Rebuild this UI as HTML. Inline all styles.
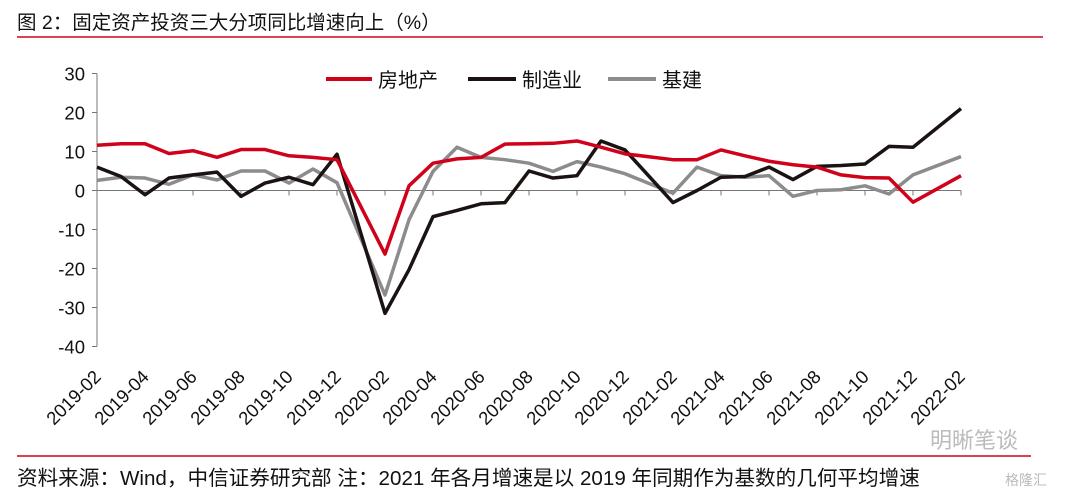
<!DOCTYPE html>
<html><head><meta charset="utf-8"><style>
body{margin:0;width:1080px;height:493px;background:#fff;overflow:hidden;font-family:"Liberation Sans","Noto Sans CJK SC",sans-serif;}
svg text{font-family:"Liberation Sans","Noto Sans CJK SC",sans-serif;}
</style></head><body>
<svg id="c" width="1080" height="493">
<text x="17" y="29" font-size="19.5" fill="#111">图 2：固定资产投资三大分项同比增速向上（%）</text>
<line x1="17" y1="37" x2="1043" y2="37" stroke="#d0021b" stroke-width="1.5"/>
<line x1="17" y1="456" x2="1031" y2="456" stroke="#d0021b" stroke-width="1.5"/>
<text x="17" y="485" font-size="20.6" fill="#111">资料来源：Wind，中信证券研究部  注：2021 年各月增速是以 2019 年同期作为基数的几何平均增速</text>
<text x="930" y="448" font-size="22" fill="#bbb">明晰笔谈</text>
<text x="1005" y="485" font-size="14" fill="#bbb">格隆汇</text>
<g id="legend">
<line x1="326" y1="79" x2="372" y2="79" stroke="#d0021b" stroke-width="4"/>
<text x="378" y="87" font-size="20" fill="#111">房地产</text>
<line x1="468" y1="79" x2="516" y2="79" stroke="#1a1311" stroke-width="4"/>
<text x="522" y="87" font-size="20" fill="#111">制造业</text>
<line x1="608" y1="79" x2="656" y2="79" stroke="#8c8c8c" stroke-width="4"/>
<text x="662" y="87" font-size="20" fill="#111">基建</text>
</g>
</svg>
<script>
const yTicks=[30,20,10,0,-10,-20,-30,-40];
const xLabels=["2019-02","2019-04","2019-06","2019-08","2019-10","2019-12","2020-02","2020-04","2020-06","2020-08","2020-10","2020-12","2021-02","2021-04","2021-06","2021-08","2021-10","2021-12","2022-02"];
const realEstate=[11.6,12,12,9.5,10.2,8.5,10.5,10.5,8.9,8.5,7.9,null,-16.3,1.2,7,8.1,8.5,11.9,12,12.1,12.7,11.1,9.4,null,7.9,7.9,10.4,8.9,7.5,6.6,6,4,3.3,3.2,-3,null,3.8];
const manufacturing=[6,3.6,-1.1,3.2,4,4.7,-1.5,1.9,3.4,1.5,9.3,null,-31.5,-20.3,-6.7,-5.1,-3.4,-3.1,5,3.2,3.8,12.7,10.4,null,-3.1,0,3.4,3.6,6,2.8,6.2,6.4,6.8,11.3,11.1,null,21];
const infrastructure=[2.6,3.4,3.2,1.6,4,2.7,5,5,1.9,5.5,2,null,-26.8,-7.5,4.9,11.1,8.5,7.9,7,4.9,7.4,6,4.3,null,-0.7,6,3.8,3.4,3.8,-1.5,0,0.2,1.2,-0.9,4,null,8.7];
const svg=document.getElementById('c');const NS='http://www.w3.org/2000/svg';
const X0=97,DX=24,Y0=190.5,YS=3.9;
const xs=i=>X0+i*DX, ys=v=>Y0-v*YS;
function mk(t,a){const e=document.createElementNS(NS,t);for(const k in a)e.setAttribute(k,a[k]);svg.appendChild(e);return e;}
const ax=mk('line',{x1:X0,y1:ys(30),x2:X0,y2:ys(-40),stroke:'#777','stroke-width':1});


yTicks.forEach(v=>{
 const t=mk('line',{x1:X0-5,y1:ys(v),x2:X0,y2:ys(v),stroke:'#777'});
 
 
 const l=mk('text',{x:X0-12,y:ys(v)+7,'font-size':18.5,'text-anchor':'end',fill:'#111'});l.textContent=v;
 
 
});
const xa=mk('line',{x1:X0,y1:Y0,x2:xs(36),y2:Y0,stroke:'#777','stroke-width':1});


xLabels.forEach((s,k)=>{
 const x=xs(k*2);
 const t=mk('line',{x1:x,y1:Y0,x2:x,y2:Y0+5,stroke:'#777'});
 
 
 const l=mk('text',{x:0,y:0,'font-size':18.5,'text-anchor':'end',fill:'#111',transform:`translate(${x+5},${378}) rotate(-45)`});l.textContent=s;
 
 
});
function series(d,c,n){
 let p='';d.forEach((v,i)=>{if(v===null)return;p+=(p?'L':'M')+xs(i)+','+ys(v);});
 const e=mk('path',{d:p,fill:'none',stroke:c,'stroke-width':3.5,'stroke-linejoin':'round'});
 
 
}
series(infrastructure,'#8c8c8c','line-infrastructure');
series(manufacturing,'#1a1311','line-manufacturing');
series(realEstate,'#d0021b','line-real-estate');
</script>
</body></html>
